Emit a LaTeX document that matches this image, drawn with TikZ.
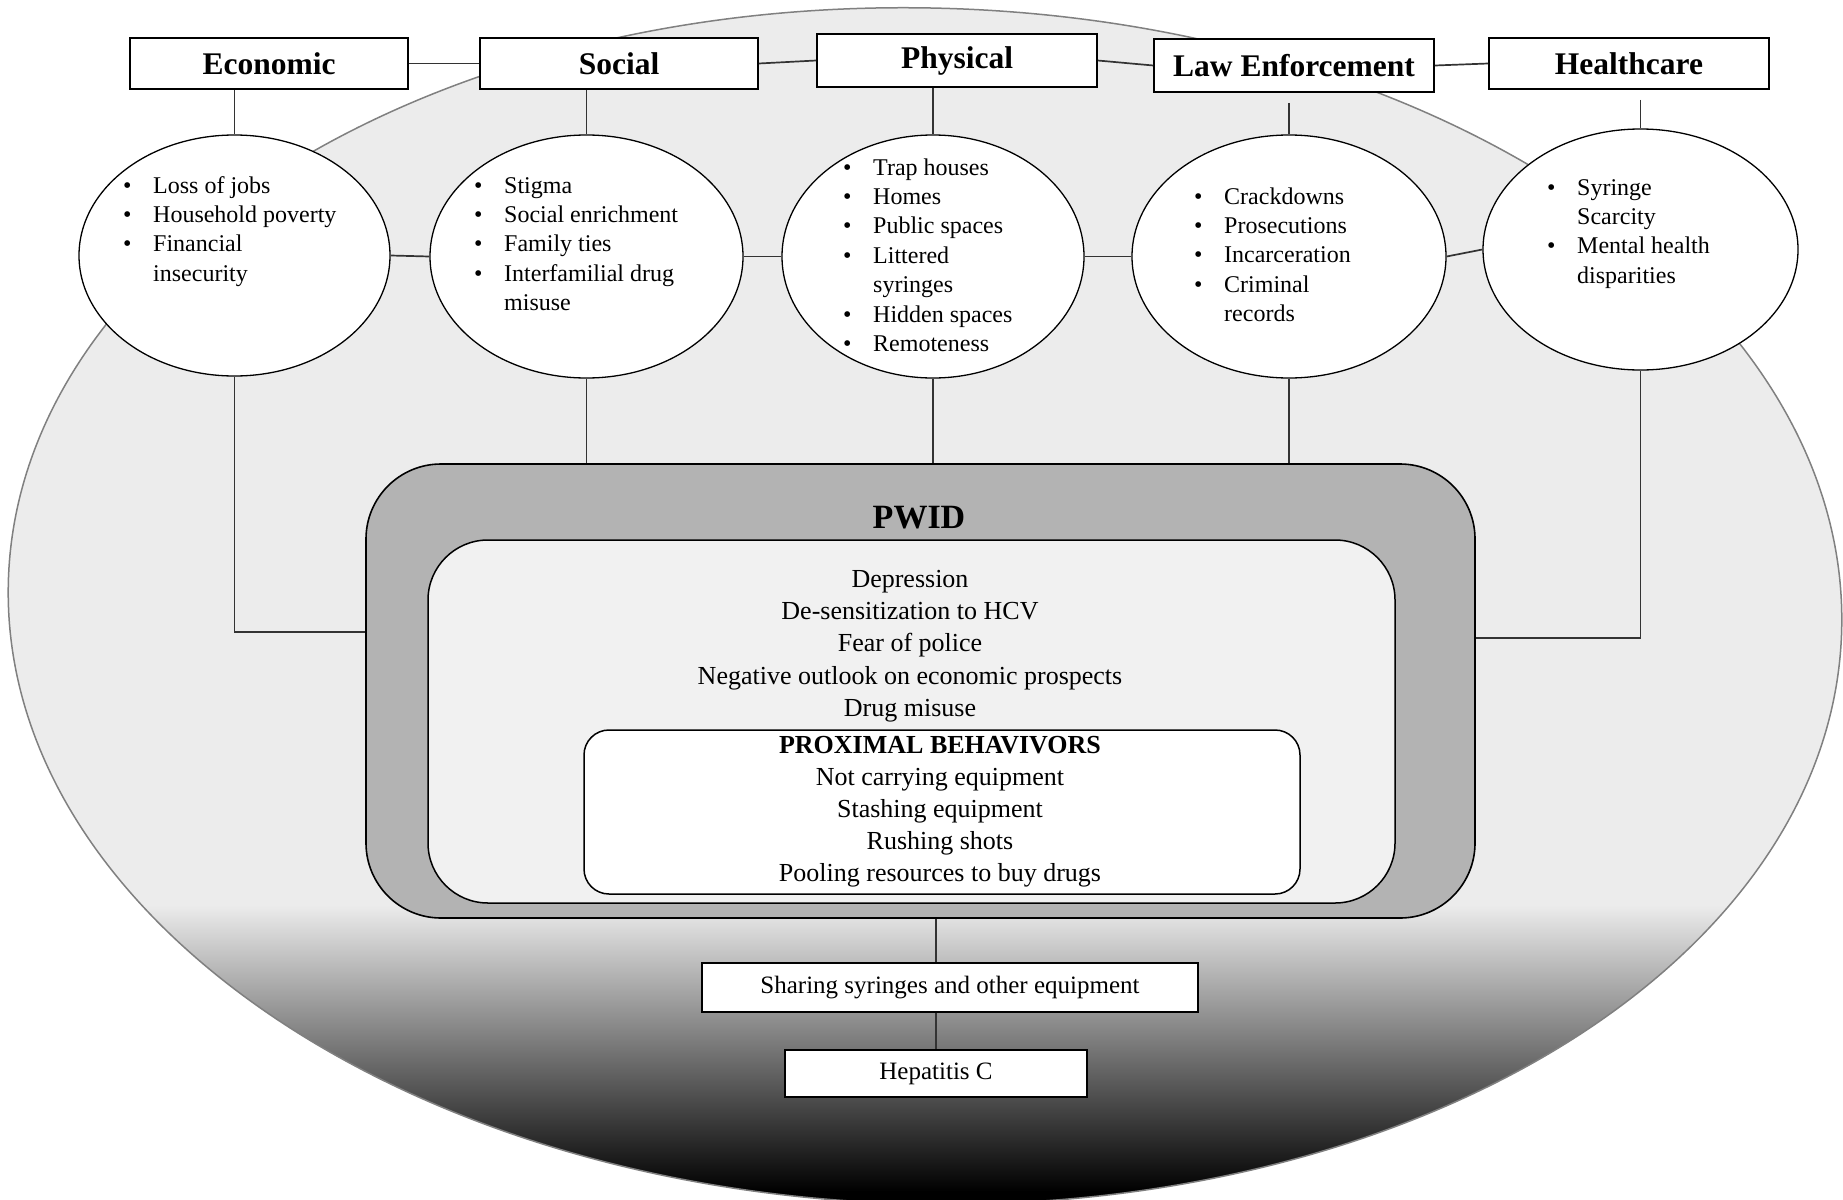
\documentclass[tikz,border=0pt]{standalone}
\usepackage{fontspec}
\setmainfont{Liberation Serif}
\usetikzlibrary{shapes.geometric}
\definecolor{bgc}{HTML}{ECECEC}
\definecolor{pwidc}{HTML}{B3B3B3}
\definecolor{innerc}{HTML}{F1F1F1}
\definecolor{linec}{HTML}{333333}
\definecolor{rimc}{HTML}{808080}
\newcommand{\itm}[1]{\makebox[30pt][l]{\textbullet}#1}
\newcommand{\cnt}[1]{\hspace*{30pt}#1}
\begin{document}
\begin{tikzpicture}[x=1pt,y=-1pt,
  title/.style={draw=black, line width=1.6pt, fill=white, minimum width=278pt, minimum height=51pt, inner sep=0pt, font=\fontsize{31.5}{36}\selectfont\bfseries},
  factor/.style={ellipse, draw=black, line width=1.3pt, fill=white, inner sep=0pt},
  conn/.style={draw=linec, line width=1.7pt},
  itemlist/.style={inner sep=0pt, anchor=base west, font=\fontsize{24}{29.4}\selectfont},
  outbox/.style={draw=black, line width=1.5pt, fill=white, inner sep=0pt, font=\fontsize{25}{30}\selectfont},
  bigell/.style={rotate around={-1.5:(925,606)}}]
\useasboundingbox (0,0) rectangle (1843,1199);
\fill[white] (0,0) rectangle (1843,1199);
% background ellipse
\begin{scope}
  \clip[bigell] (925,606) ellipse [x radius=917, y radius=598];
  \fill[bgc] (-20,-20) rectangle (1900,906);
  \shade[top color=bgc, bottom color=black] (-20,905) rectangle (1900,1192);
  \fill[black] (-20,1191) rectangle (1900,1240);
\end{scope}
\draw[bigell, rimc, line width=1.5pt] (925,606) ellipse [x radius=917, y radius=598];

% title boxes
\node[title] (eco) at (269,63.5) {Economic};
\node[title] (soc) at (619,63.5) {Social};
\node[title, minimum width=280pt, minimum height=53pt] (phy) at (957,60.5) {Physical};
\node[title, minimum width=280pt, minimum height=53pt] (law) at (1294,65.5) {Law Enforcement};
\node[title, minimum width=280pt] (hea) at (1629,63.5) {Healthcare};

% factor ellipses
\node[factor, minimum width=311pt, minimum height=241pt] (e1) at (234.5,255.5) {};
\node[factor, minimum width=313pt, minimum height=243pt] (e2) at (586.5,256.5) {};
\node[factor, minimum width=302pt, minimum height=243pt] (e3) at (933,256.5) {};
\node[factor, minimum width=314pt, minimum height=243pt] (e4) at (1289,256.5) {};
\node[factor, minimum width=315pt, minimum height=241pt] (e5) at (1640.5,249.5) {};

% lists
\node[itemlist] (l1) at (123,193) {\begin{tabular}[t]{@{}l@{}}\itm{Loss of jobs}\\ \itm{Household poverty}\\ \itm{Financial}\\ \cnt{insecurity}\end{tabular}};
\node[itemlist] (l2) at (474,193) {\begin{tabular}[t]{@{}l@{}}\itm{Stigma}\\ \itm{Social enrichment}\\ \itm{Family ties}\\ \itm{Interfamilial drug}\\ \cnt{misuse}\end{tabular}};
\node[itemlist] (l3) at (843,175) {\begin{tabular}[t]{@{}l@{}}\itm{Trap houses}\\ \itm{Homes}\\ \itm{Public spaces}\\ \itm{Littered}\\ \cnt{syringes}\\ \itm{Hidden spaces}\\ \itm{Remoteness}\end{tabular}};
\node[itemlist] (l4) at (1194,204) {\begin{tabular}[t]{@{}l@{}}\itm{Crackdowns}\\ \itm{Prosecutions}\\ \itm{Incarceration}\\ \itm{Criminal}\\ \cnt{records}\end{tabular}};
\node[itemlist] (l5) at (1547,195) {\begin{tabular}[t]{@{}l@{}}\itm{Syringe}\\ \cnt{Scarcity}\\ \itm{Mental health}\\ \cnt{disparities}\end{tabular}};

% PWID block
\node[draw=black, line width=1.6pt, fill=pwidc, rounded corners=75pt, minimum width=1109pt, minimum height=454pt, inner sep=0pt] (pwid) at (920.5,691) {};
\node[font=\fontsize{34}{40}\selectfont\bfseries, inner sep=0pt] (pwidlab) at (919,518) {PWID};
\node[draw=black, line width=1.5pt, fill=innerc, rounded corners=60pt, minimum width=967pt, minimum height=363pt, inner sep=0pt] (inner) at (911.5,721.5) {};
\node[font=\fontsize{26}{32.2}\selectfont, align=center, inner sep=0pt] (innertxt) at (910,646) {Depression\\De-sensitization to HCV\\Fear of police\\Negative outlook on economic prospects\\Drug misuse};
\node[draw=black, line width=1.5pt, fill=white, rounded corners=25pt, minimum width=716pt, minimum height=164pt, inner sep=0pt] (prox) at (942,812) {};
\node[font=\fontsize{26}{32}\selectfont, align=center, inner sep=0pt] (proxtxt) at (940,812) {\textbf{PROXIMAL BEHAVIVORS}\\Not carrying equipment\\Stashing equipment\\Rushing shots\\Pooling resources to buy drugs};

% outcome boxes
\node[outbox, minimum width=496pt, minimum height=49pt] (shr) at (950,987.5) {Sharing syringes and other equipment};
\node[outbox, minimum width=302pt, minimum height=47pt] (hep) at (936,1073.5) {Hepatitis C};

% connectors
\coordinate (jl) at (0,632);
\coordinate (jr) at (0,638);
\draw[conn] (eco.east) -- (soc.west);
\draw[conn] (soc.east) -- (phy.west);
\draw[conn] (phy.east) -- (law.west);
\draw[conn] (law.east) -- (hea.west);
\draw[conn] (e1.north |- eco.south) -- (e1.north);
\draw[conn] (e2.north |- soc.south) -- (e2.north);
\draw[conn] (e3.north |- phy.south) -- (e3.north);
\draw[conn, shorten <=10pt] (e4.north |- law.south) -- (e4.north);
\draw[conn, shorten <=10pt] (e5.north |- hea.south) -- (e5.north);
\draw[conn] (e1.east) -- (e2.west);
\draw[conn] (e2.east) -- (e3.west);
\draw[conn] (e3.east) -- (e4.west);
\draw[conn] (e4.east) -- (e5.west);
\draw[conn] (e1.south) -- (e1.south |- jl) -- (pwid.west |- jl);
\draw[conn] (e2.south) -- (e2.south |- pwid.north);
\draw[conn] (e3.south) -- (e3.south |- pwid.north);
\draw[conn] (e4.south) -- (e4.south |- pwid.north);
\draw[conn] (e5.south) -- (e5.south |- jr) -- (pwid.east |- jr);
\draw[conn] (hep.north |- pwid.south) -- (hep.north |- shr.north);
\draw[conn] (hep.north |- shr.south) -- (hep.north);
\end{tikzpicture}
\end{document}
